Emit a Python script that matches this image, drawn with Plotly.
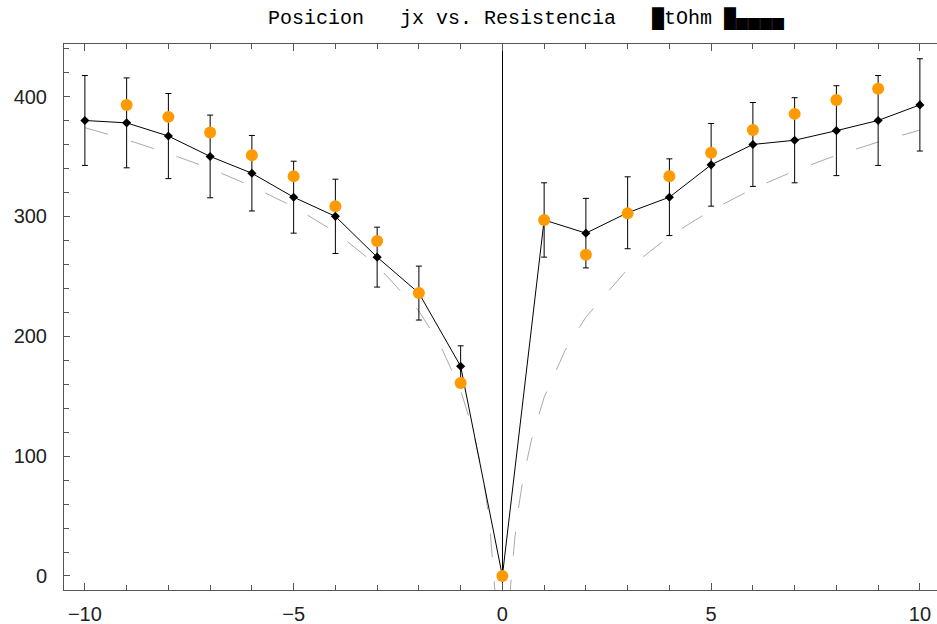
import plotly.graph_objects as go

# ---- data ----
pos_x = [-10, -9, -8, -7, -6, -5, -4, -3, -2, -1, 0, 1, 2, 3, 4, 5, 6, 7, 8, 9, 10]
meas_r = [380, 378, 367, 350, 336, 316, 300, 266, 236, 175, 0,
          297, 286, 303, 316, 343, 360, 363.5, 371.5, 380, 393]
meas_err = [37.5, 37.5, 35.5, 34.5, 31.5, 30, 31, 25, 22.5, 17, 0,
            31, 29, 30, 32, 34.5, 35, 35.5, 37.5, 37.5, 38.5]

theo_x = [-9, -8, -7, -6, -5, -4, -3, -2, -1, 0, 1, 2, 3, 4, 5, 6, 7, 8, 9]
theo_r = [393, 383, 370, 351, 333.5, 308.5, 279.5, 236, 161, 0,
          297, 268, 302.5, 333.5, 353, 372, 385.5, 397, 406.5]

fit_left_x = [-10, -9, -8, -7, -6, -5, -4, -3, -2, -1.5, -1, -0.7, -0.5, -0.4, -0.3, -0.2, -0.15]
fit_left_r = [374, 364, 352.5, 340, 325, 308, 287, 259, 221, 193.5, 155, 121, 89, 68, 41, 2, -25]
fit_right_x = [0.17, 0.2, 0.3, 0.4, 0.5, 0.7, 1, 1.5, 2, 3, 4, 5, 6, 7, 8, 9, 10]
fit_right_r = [-23, -7, 32, 60, 82, 114, 149, 188, 216, 256, 283.5, 305, 323, 338, 351, 362, 372]

x_ticks = [-10, -5, 0, 5, 10]
y_ticks = [0, 100, 200, 300, 400]
title_text = "Posicion   jx vs. Resistencia   █tOhm █▄▄▄▄"

ORANGE = "#FF9A00"
FRAME = "#555555"
TICKFONT = dict(family="Liberation Sans, Arial, sans-serif", size=20, color="#222222")

fig = go.Figure()

fig.add_trace(go.Scatter(
    x=fit_left_x, y=fit_left_r, mode="lines",
    line=dict(color="#AAAAAA", width=1, dash="24px,24px"),
    showlegend=False, hoverinfo="skip"))
fig.add_trace(go.Scatter(
    x=fit_right_x, y=fit_right_r, mode="lines",
    line=dict(color="#AAAAAA", width=1, dash="24px,24px"),
    showlegend=False, hoverinfo="skip"))

fig.add_trace(go.Scatter(
    x=pos_x, y=meas_r, mode="lines+markers",
    line=dict(color="black", width=1),
    marker=dict(symbol="diamond", size=7, color="black"),
    error_y=dict(type="data", array=meas_err, visible=True,
                 color="black", thickness=1, width=3),
    showlegend=False))

fig.add_trace(go.Scatter(
    x=theo_x, y=theo_r, mode="markers",
    marker=dict(symbol="circle", size=12, color=ORANGE),
    showlegend=False))

fig.update_layout(
    width=937, height=624,
    margin=dict(l=64, r=0, t=44, b=34),
    paper_bgcolor="white", plot_bgcolor="white",
    xaxis=dict(
        range=[-10.5, 10.41], tickvals=x_ticks, ticktext=["−10", "−5", "0", "5", "10"],
        ticks="inside", ticklen=7, tickwidth=1, tickcolor=FRAME,
        minor=dict(dtick=1, ticks="inside", ticklen=5, tickwidth=1, tickcolor=FRAME),
        showline=True, linecolor=FRAME, linewidth=1, mirror="ticks",
        showgrid=False, zeroline=True, zerolinecolor="black", zerolinewidth=1,
        tickfont=TICKFONT, ticklabelstandoff=6, automargin=False),
    yaxis=dict(
        range=[-11.7, 443.8], tickvals=y_ticks,
        ticks="inside", ticklen=6, tickwidth=1, tickcolor=FRAME,
        minor=dict(dtick=20, ticks="inside", ticklen=5, tickwidth=1, tickcolor=FRAME),
        showline=True, linecolor=FRAME, linewidth=1, mirror=False,
        showgrid=False, zeroline=False,
        tickfont=TICKFONT, ticklabelstandoff=12, automargin=False),
    annotations=[dict(
        text=title_text.replace(" ", "\u00a0"), xref="paper", yref="paper",
        x=(266 - 64) / 873, y=(590 - 19) / 546, xanchor="left", yanchor="middle",
        showarrow=False,
        font=dict(family="Liberation Mono, Courier New, monospace", size=20, color="black"))],
)

fig.write_html("out.html",
               config={"displayModeBar": False},
               post_script="document.body.style.margin='0';document.body.style.overflow='hidden';")
